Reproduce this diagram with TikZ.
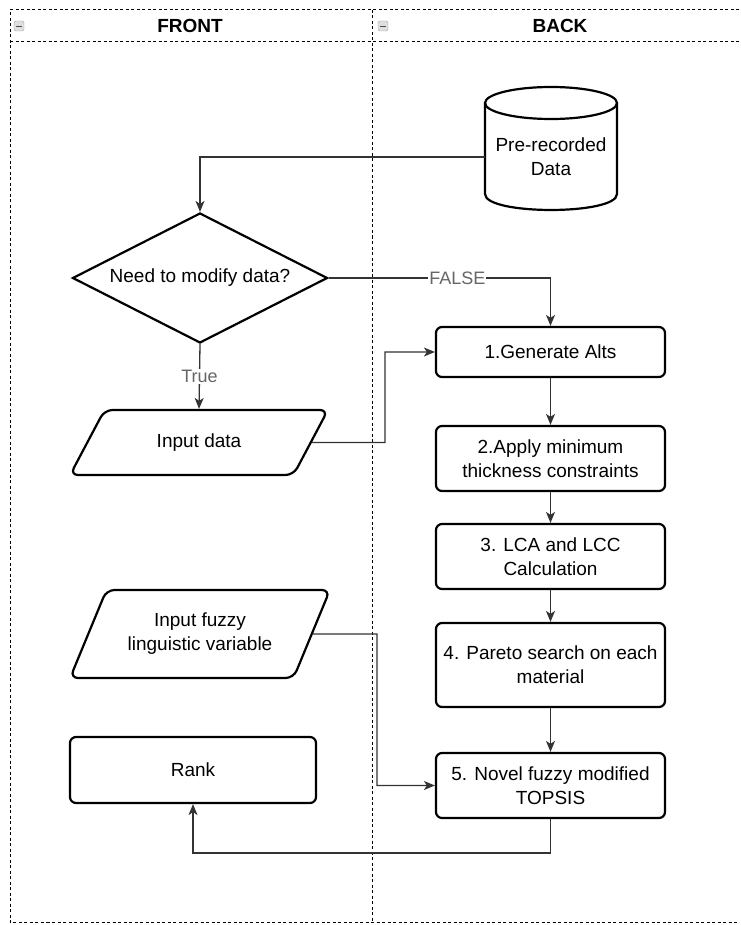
\documentclass[tikz,border=0pt]{standalone}
\usepackage{fontspec}
\setmainfont{Liberation Sans}
\usetikzlibrary{shapes.geometric,arrows.meta}
\definecolor{conngrey}{HTML}{333333}
\definecolor{lblgrey}{HTML}{666666}
\begin{document}
\begin{tikzpicture}[x=1pt,y=-1pt,
  txt/.style={font=\fontsize{19}{24}\selectfont, align=center, text=black},
  shp/.style={txt, draw=black, line width=2.2pt, inner sep=0pt},
  box/.style={shp, rounded corners=6pt, minimum width=229pt},
  para/.style={shp, trapezium, trapezium stretches=true, rounded corners=8pt},
  conn/.style={draw=conngrey, line width=1.3pt, -{Stealth[length=11pt,width=9pt,inset=3pt]}},
  lbl/.style={font=\fontsize{18}{20}\selectfont, text=lblgrey, fill=white, inner sep=1pt},
  lane/.style={draw=black, line width=1pt, dash pattern=on 3pt off 2.5pt},
  hdr/.style={font=\bfseries\fontsize{19}{22}\selectfont},
  icon/.style={draw=gray!70, fill=gray!25, minimum width=10pt, minimum height=10pt, inner sep=0pt, rounded corners=1.5pt,
    path picture={\draw[gray!60!black, line width=0.9pt] ([xshift=2pt]path picture bounding box.west) -- ([xshift=-2pt]path picture bounding box.east);}},
]
\useasboundingbox (0,0) rectangle (740,925);

% lanes
\draw[lane] (739,10) -- (10,10) -- (10,922) -- (739,922);
\draw[lane] (10,42) -- (739,42);
\draw[lane] (372,10) -- (372,922);
\node[icon] (ic1) at (19,26) {};
\node[icon] (ic2) at (383,26) {};
\node[hdr] (hfront) at (190,26) {FRONT};
\node[hdr] (hback) at (560,26) {BACK};

% database cylinder
\draw[line width=2.2pt] (485,103) -- (485,194) .. controls (485,215.3) and (617,215.3) .. (617,194) -- (617,103);
\draw[line width=2.2pt] (551,103) ellipse [x radius=66, y radius=16];
\node[txt, minimum width=132pt, inner sep=0pt] (db) at (551,157) {Pre-recorded\\Data};

% decision
\node[shp, diamond, aspect=1.96, minimum width=255pt, minimum height=130pt] (dec) at (200,278) {Need to modify data?};

% inputs
\node[para, trapezium left angle=49, trapezium right angle=131, minimum width=258pt, minimum height=65pt] (inp) at (199,442.5) {Input data};
\node[para, trapezium left angle=56, trapezium right angle=124, minimum width=260pt, minimum height=88pt] (fuz) at (200,634) {Input fuzzy\\linguistic variable};

% process boxes
\node[box, minimum height=50pt] (b1) at (550.5,352) {1.Generate Alts};
\node[box, minimum height=65pt] (b2) at (550.5,458.5) {2.Apply minimum\\thickness constraints};
\node[box, minimum height=65pt] (b3) at (550.5,556.5) {3. LCA and LCC\\Calculation};
\node[box, minimum height=84pt] (b4) at (550.5,665) {4. Pareto search on each\\material};
\node[box, minimum height=65pt] (b5) at (550.5,785.5) {5. Novel fuzzy modified\\TOPSIS};
\node[box, minimum width=246pt, minimum height=66pt] (rank) at (193,770) {Rank};

% connectors
\draw[conn] (db.west) -| (dec.north);
\draw[conn] (dec.east) -| node[lbl, pos=0.29] (lf) {FALSE} (b1.north);
\draw[conn] (dec.south) -- node[lbl] (lt) {True} (inp.north);
\coordinate (c1) at (385,442.5);
\draw[conn] (inp.east) -- (c1) |- (b1.west);
\coordinate (c2) at (377,634);
\draw[conn] (fuz.east) -- (c2) |- (b5.west);
\draw[conn] (b1.south) -- (b2.north);
\draw[conn] (b2.south) -- (b3.north);
\draw[conn] (b3.south) -- (b4.north);
\draw[conn] (b4.south) -- (b5.north);
\coordinate (c3) at (550.5,853);
\draw[conn] (b5.south) -- (c3) -| (rank.south);
\end{tikzpicture}
\end{document}
